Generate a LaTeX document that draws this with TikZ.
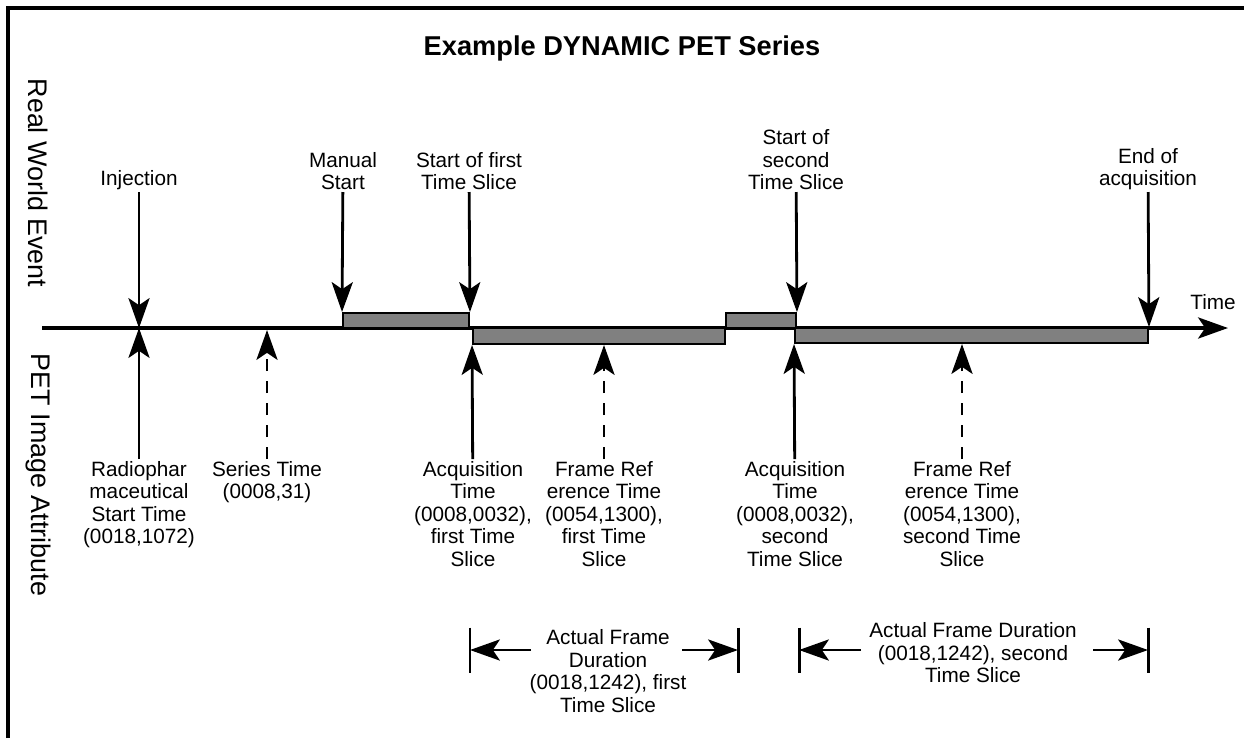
\documentclass[tikz,border=0pt]{standalone}
\usepackage{fontspec}
\setmainfont{Liberation Sans}
\usepackage{tikz}
\usetikzlibrary{positioning, arrows.meta, fit}
\usepackage{xcolor}
\definecolor{cbar}{HTML}{808080}

\begin{document}
\begin{tikzpicture}[
	x=0.02cm, y=-0.02cm,
	% Estilo para los textos
	txt/.style={
		align=center,
		inner sep=1pt,
		font=\fontsize{11.8}{12.8}\selectfont
	},
	% Estilo para los textos laterales
	sidetxt/.style={
		rotate=-90,
		inner sep=0pt,
		font=\fontsize{15.3}{18}\selectfont
	},
	% Estilo para las flechas
	evt/.style={
		line width=1.6pt,
		-{Stealth[length=17pt, width=12pt, inset=4pt]}
	},
	attr/.style={
		evt,
		dash pattern=on 7pt off 5.5pt
	},
	% Estilo para las barras de tiempo
	slicebar/.style={
		draw=black,
		fill=cbar,
		line width=1.1pt,
		inner sep=0pt
	},
	tick/.style={
		line width=1.7pt
	}
	]
	
	\useasboundingbox (0,0) rectangle (1244,738);
	% Marco
	\draw[line width=1.8pt] (8,738) -- (8,8) -- (1244,8);
	
	% Titulo
	\node[font=\fontsize{15.5}{18}\selectfont\bfseries] (title) at (622,48) {Example DYNAMIC PET Series};
	
	% Textos laterales
	\node[sidetxt] (realworld) at (38,183) {Real World Event};
	\node[sidetxt] (petattr) at (38,475) {PET Image Attribute};
	
	% --- Eje de tiempo ---
	\coordinate (axstart) at (42,328);
	\coordinate (axend) at (1228,328);
	\draw[evt, line width=2pt] (axstart) -- (axend);
	\node[txt] (time) at (1213,302) {Time};
	
	% Barras de adquisicion
	\node[slicebar, fit={(343,313) (469,328)}] (bar1) {};
	\node[slicebar, fit={(473,328) (725,344)}] (bar2) {};
	\node[slicebar, fit={(726,313) (796,328)}] (bar3) {};
	\node[slicebar, fit={(795,328) (1148,343)}] (bar4) {};
	
	% --- Eventos reales (arriba) ---
	\coordinate (tinj) at (139,328);
	\node[txt, anchor=south] (inj) at (139,192) {Injection};
	\node[txt, anchor=south] (manual) at (343,192) {Manual\\Start};
	\node[txt, anchor=south] (first) at (469,192) {Start of first\\Time Slice};
	\node[txt, anchor=south] (second) at (796,192) {Start of\\second\\Time Slice};
	\node[txt, anchor=south] (endacq) at (1148,192) {End of\\acquisition};
	
	\draw[evt] (inj) -- (tinj);
	\draw[evt] (manual) -- (bar1.north west);
	\draw[evt] (first) -- (bar1.north east);
	\draw[evt] (second) -- (bar3.north east);
	\draw[evt] (endacq) -- (bar4.north east);
	
	% --- Atributos de la imagen (abajo) ---
	\coordinate (tser) at (267,330);
	\coordinate (tfr1) at (604,345);
	\coordinate (tfr2) at (962,344);
	\node[txt, anchor=north] (rad) at (139,459) {Radiophar\\maceutical\\Start Time\\(0018,1072)};
	\node[txt, anchor=north] (ser) at (267,459) {Series Time\\(0008,31)};
	\node[txt, anchor=north] (acq1) at (473,459) {Acquisition\\Time\\(0008,0032),\\first Time\\Slice};
	\node[txt, anchor=north] (fr1) at (604,459) {Frame Ref\\erence Time\\(0054,1300),\\first Time\\Slice};
	\node[txt, anchor=north] (acq2) at (795,459) {Acquisition\\Time\\(0008,0032),\\second\\Time Slice};
	\node[txt, anchor=north] (fr2) at (962,459) {Frame Ref\\erence Time\\(0054,1300),\\second Time\\Slice};
	
	\draw[evt] (rad) -- (tinj);
	\draw[attr] (ser) -- (tser);
	\draw[evt] (acq1) -- (bar2.south west);
	\draw[attr] (fr1) -- (tfr1);
	\draw[evt] (acq2) -- (bar4.south west);
	\draw[attr] (fr2) -- (tfr2);
	
	% --- Duracion del primer corte ---
	\coordinate (d1a) at (470,650);
	\coordinate (d1b) at (738,650);
	\coordinate (d1at) at (531,650);
	\coordinate (d1bt) at (682,650);
	\draw[tick] ([yshift=12.8pt]d1a) -- ([yshift=-12.8pt]d1a);
	\draw[tick] ([yshift=12.8pt]d1b) -- ([yshift=-12.8pt]d1b);
	\draw[evt] (d1at) -- (d1a);
	\draw[evt] (d1bt) -- (d1b);
	\node[txt] (dur1) at (608,671) {Actual Frame\\Duration\\(0018,1242), first\\Time Slice};
	
	% --- Duracion del segundo corte ---
	\coordinate (d2a) at (799,650);
	\coordinate (d2b) at (1148,650);
	\coordinate (d2at) at (861,650);
	\coordinate (d2bt) at (1093,650);
	\draw[tick] ([yshift=12.8pt]d2a) -- ([yshift=-12.8pt]d2a);
	\draw[tick] ([yshift=12.8pt]d2b) -- ([yshift=-12.8pt]d2b);
	\draw[evt] (d2at) -- (d2a);
	\draw[evt] (d2bt) -- (d2b);
	\node[txt] (dur2) at (973,653) {Actual Frame Duration\\(0018,1242), second\\Time Slice};
	
\end{tikzpicture}
\end{document}
